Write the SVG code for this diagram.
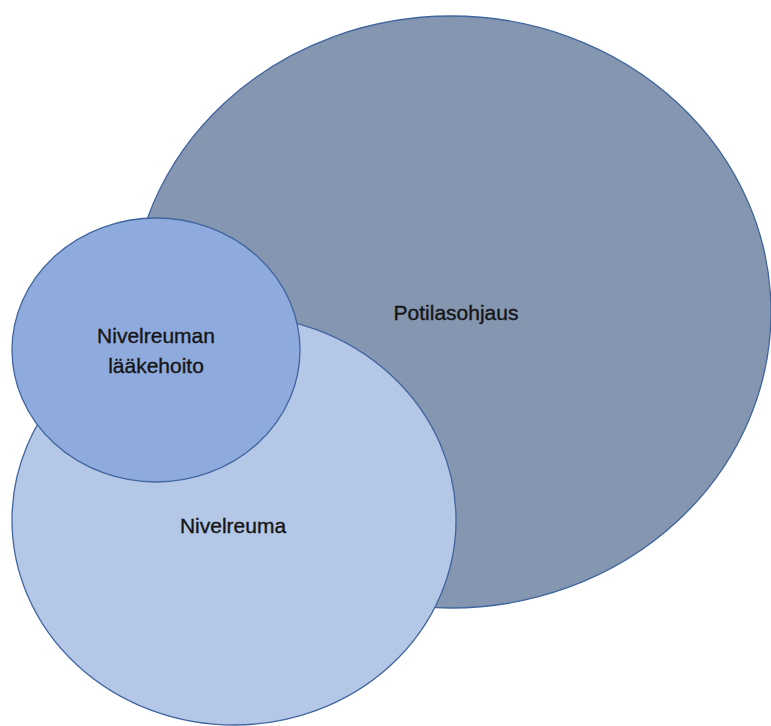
<svg xmlns="http://www.w3.org/2000/svg" width="771" height="726" viewBox="0 0 771 726">
<style>
.c{stroke:#41659f;stroke-width:1.3}
.t{font-family:"Liberation Sans",Arial,sans-serif;font-size:21px;fill:#151515;stroke:#151515;stroke-width:0.35;text-anchor:middle}
</style>
<rect width="771" height="726" fill="#ffffff"/>
<g id="potilasohjaus">
<ellipse class="c" cx="451" cy="312" rx="320" ry="296" fill="#8496b0"/>
<text class="t" x="456" y="320">Potilasohjaus</text>
</g>
<g id="nivelreuma">
<ellipse class="c" cx="234" cy="520" rx="222" ry="205" fill="#b4c7e7"/>
<text class="t" x="233" y="533">Nivelreuma</text>
</g>
<g id="laakehoito">
<ellipse class="c" cx="156" cy="350" rx="144" ry="132" fill="#8faadc"/>
<text class="t" x="156" y="343">Nivelreuman</text>
<text class="t" x="156" y="373">lääkehoito</text>
</g>
<g id="connectors"/>
</svg>
